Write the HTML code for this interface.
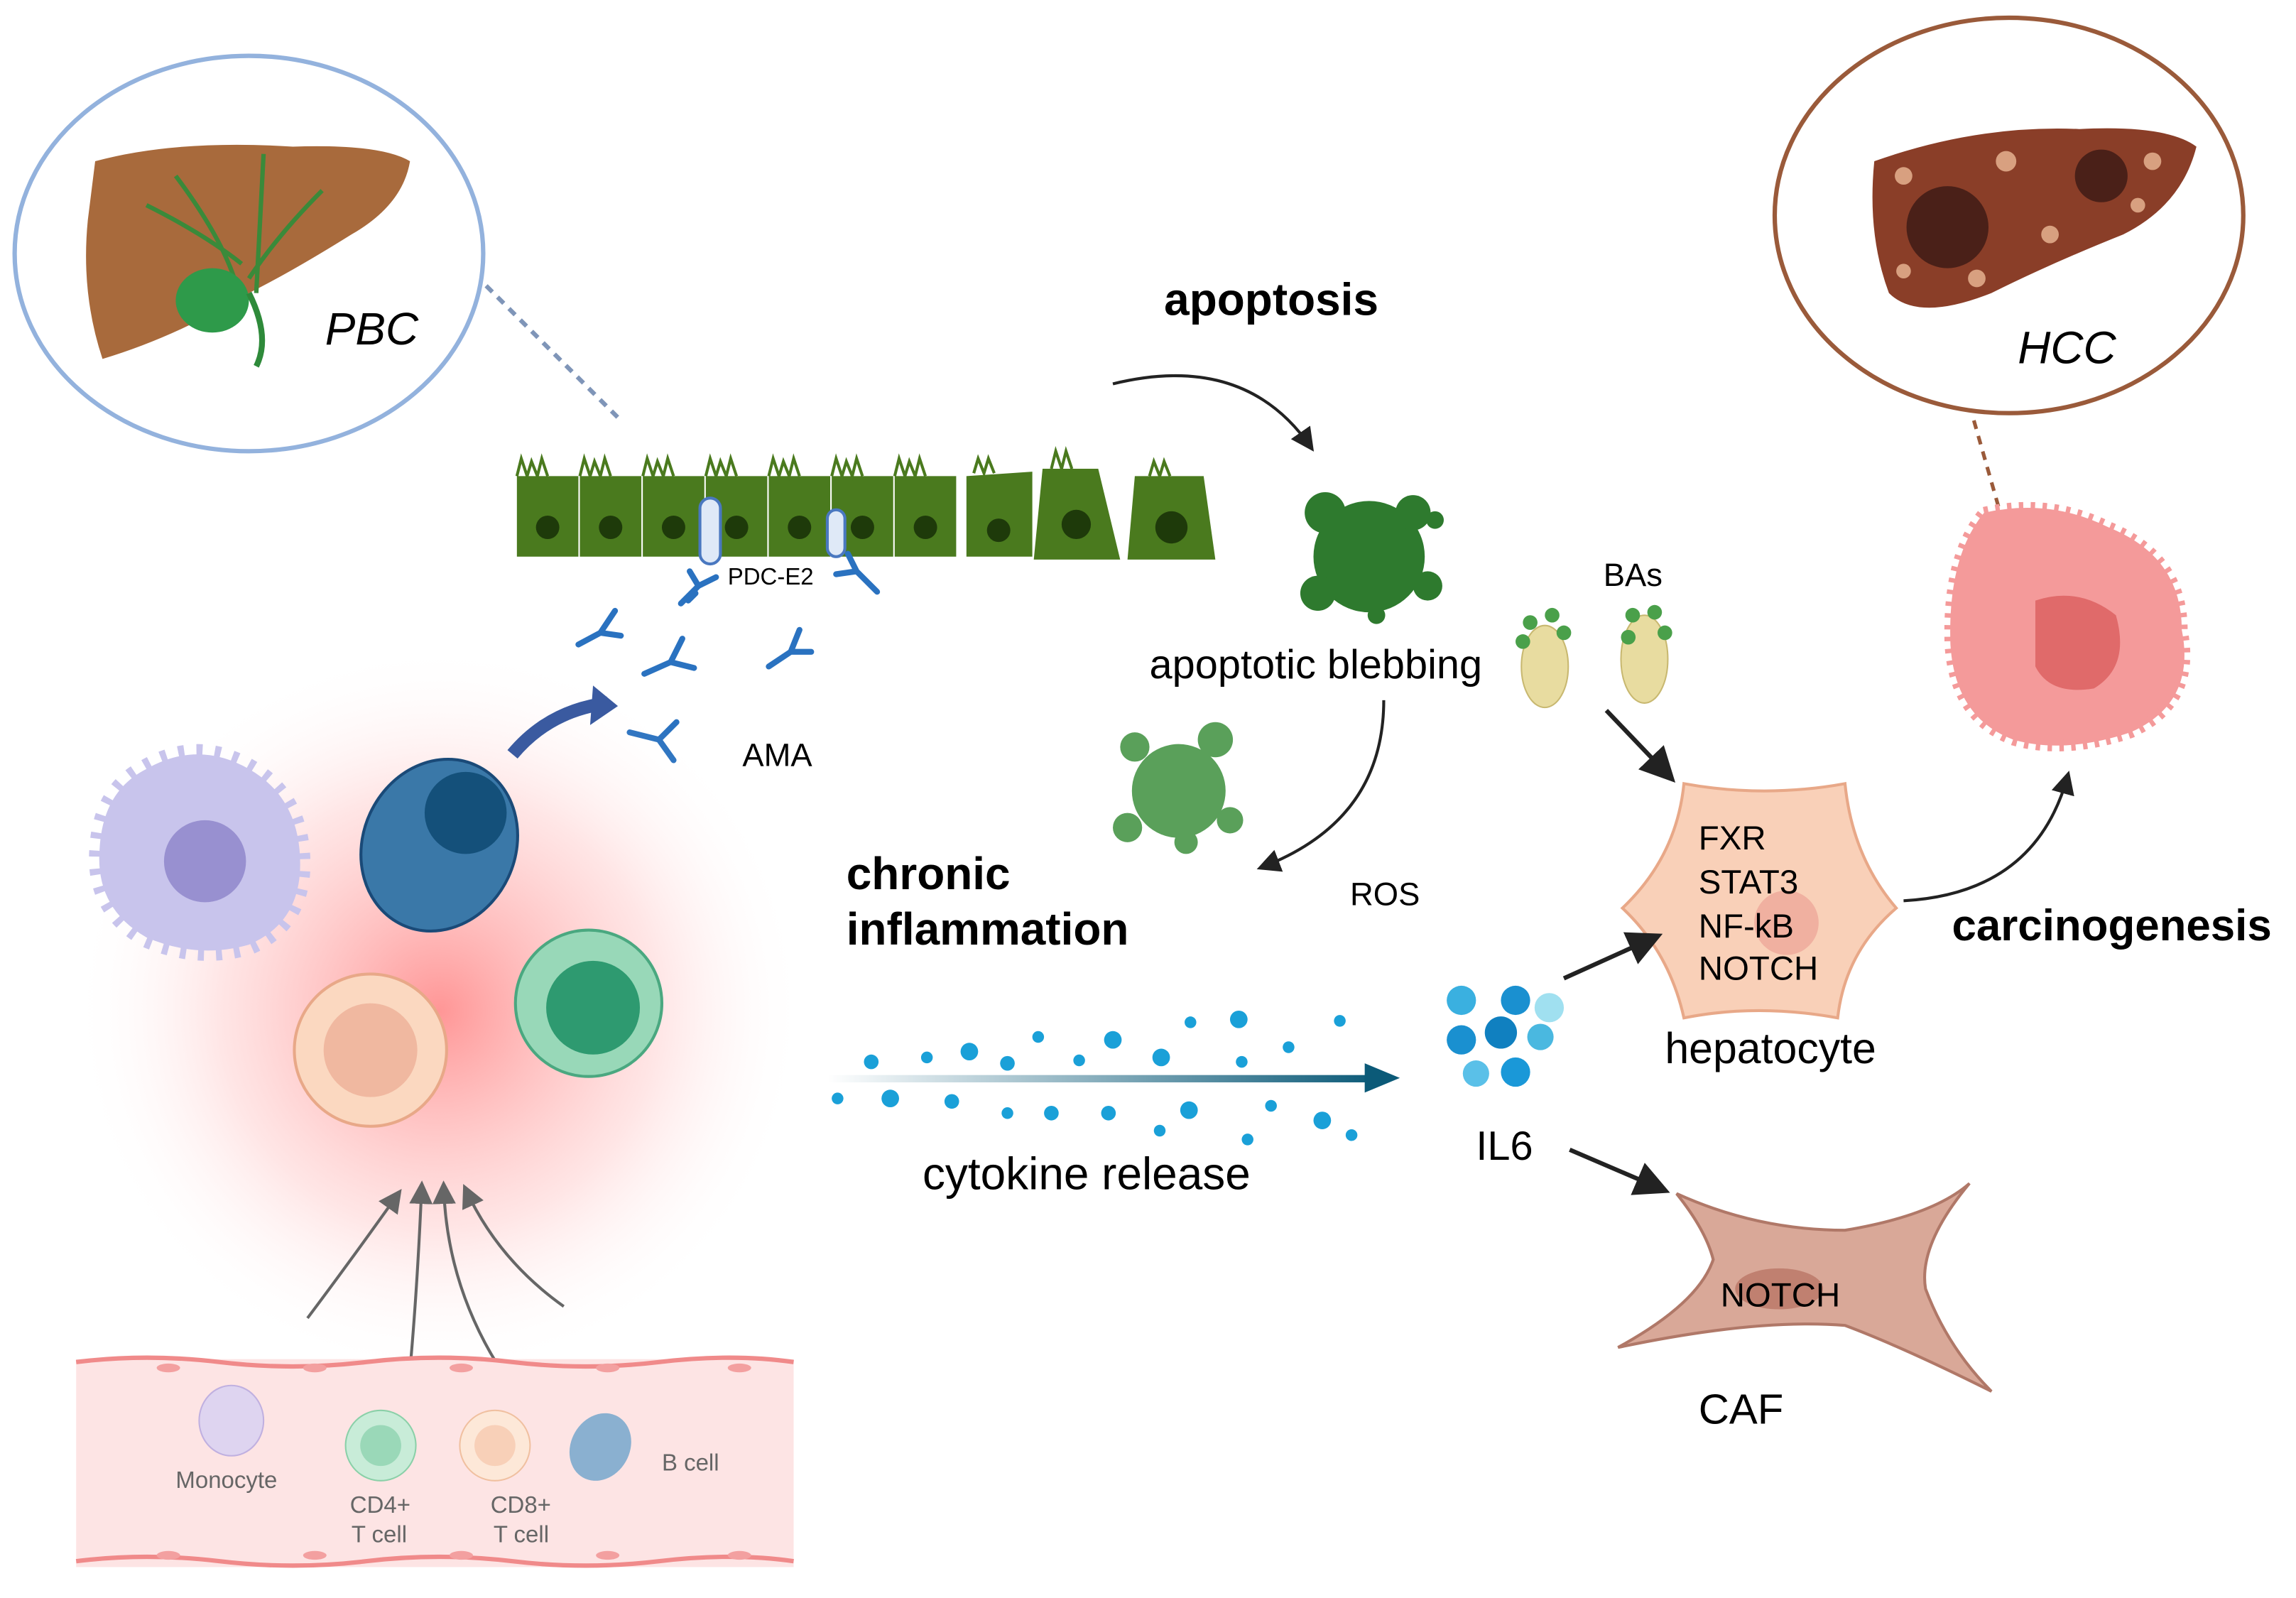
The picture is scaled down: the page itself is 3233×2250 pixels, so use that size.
<!DOCTYPE html>
<html><head><meta charset="utf-8"><style>
html,body{margin:0;padding:0;background:#fff}
svg{display:block}
text{font-family:"Liberation Sans",sans-serif}
</style></head><body>
<svg width="3233" height="2250" viewBox="0 0 1568 1091" xmlns="http://www.w3.org/2000/svg">
<defs>
<radialGradient id="glow" cx="0.5" cy="0.5" r="0.5">
<stop offset="0" stop-color="#ff4040" stop-opacity="0.55"/>
<stop offset="0.6" stop-color="#ff8080" stop-opacity="0.2"/>
<stop offset="1" stop-color="#ffffff" stop-opacity="0"/>
</radialGradient>
<linearGradient id="cyt" x1="0" x2="1"><stop offset="0" stop-color="#0b5a78" stop-opacity="0"/><stop offset="1" stop-color="#0b5a78"/></linearGradient>
<marker id="ah" markerWidth="8" markerHeight="8" refX="6" refY="4" orient="auto"><path d="M0,0 L8,4 L0,8 z" fill="#222"/></marker>
<marker id="ahg" markerWidth="8" markerHeight="8" refX="6" refY="4" orient="auto"><path d="M0,0 L8,4 L0,8 z" fill="#666"/></marker>
</defs>

<ellipse cx="170" cy="173" rx="160" ry="135" fill="#fff" stroke="#93b2dd" stroke-width="3"/>
<path d="M65,110 Q120,95 200,100 Q260,98 280,110 Q275,140 240,160 Q200,185 170,200 Q120,230 70,245 Q55,200 60,150 Z" fill="#a86a3c"/>
<path d="M120,120 Q150,160 160,190 M180,105 L175,200 M100,140 Q140,160 165,180 M220,130 Q190,160 170,190" stroke="#3a8a3a" stroke-width="3" fill="none"/>
<ellipse cx="145" cy="205" rx="25" ry="22" fill="#2e9a4a"/>
<path d="M170,200 Q185,230 175,250" stroke="#2e8a3a" stroke-width="4" fill="none"/>
<text x="222" y="235" font-size="31" font-style="italic">PBC</text>
<line x1="332" y1="195" x2="425" y2="288" stroke="#7f95b8" stroke-width="3" stroke-dasharray="6,5"/>

<ellipse cx="1372" cy="147" rx="160" ry="135" fill="#fff" stroke="#9a5a3a" stroke-width="3"/>
<path d="M1280,110 Q1350,85 1420,88 Q1480,85 1500,100 Q1490,140 1450,160 Q1400,180 1360,200 Q1310,220 1290,200 Q1275,160 1280,110 Z" fill="#8a3e28"/>
<circle cx="1330" cy="155" r="28" fill="#4a2018"/><circle cx="1435" cy="120" r="18" fill="#4a2018"/>
<g fill="#d8a080"><circle cx="1300" cy="120" r="6"/><circle cx="1370" cy="110" r="7"/><circle cx="1470" cy="110" r="6"/><circle cx="1400" cy="160" r="6"/><circle cx="1300" cy="185" r="5"/><circle cx="1460" cy="140" r="5"/><circle cx="1350" cy="190" r="6"/></g>
<text x="1378" y="248" font-size="31" font-style="italic">HCC</text>
<line x1="1348" y1="287" x2="1368" y2="357" stroke="#9a5a3a" stroke-width="2.5" stroke-dasharray="6,5"/>

<g fill="#4a7a1e">
<rect x="353" y="325" width="42" height="55"/><rect x="396" y="325" width="42" height="55"/><rect x="439" y="325" width="42" height="55"/><rect x="482" y="325" width="42" height="55"/><rect x="525" y="325" width="42" height="55"/><rect x="568" y="325" width="42" height="55"/><rect x="611" y="325" width="42" height="55"/>
<path d="M660,325 L705,322 L705,380 L660,380 Z"/><path d="M712,320 L750,320 L765,382 L706,382 Z"/><path d="M775,325 L822,325 L830,382 L770,382 Z"/>
</g>
<g fill="#1e3a0a"><circle cx="374" cy="360" r="8"/><circle cx="417" cy="360" r="8"/><circle cx="460" cy="360" r="8"/><circle cx="503" cy="360" r="8"/><circle cx="546" cy="360" r="8"/><circle cx="589" cy="360" r="8"/><circle cx="632" cy="360" r="8"/><circle cx="682" cy="362" r="8"/><circle cx="735" cy="358" r="10"/><circle cx="800" cy="360" r="11"/></g>
<path d="M353,325 l3,-12 l4,12 l3,-10 l4,10 l3,-12 l4,12 M396,325 l3,-12 l4,12 l3,-10 l4,10 l3,-12 l4,12 M439,325 l3,-12 l4,12 l3,-10 l4,10 l3,-12 l4,12 M482,325 l3,-12 l4,12 l3,-10 l4,10 l3,-12 l4,12 M525,325 l3,-12 l4,12 l3,-10 l4,10 l3,-12 l4,12 M568,325 l3,-12 l4,12 l3,-10 l4,10 l3,-12 l4,12 M611,325 l3,-12 l4,12 l3,-10 l4,10 l3,-12 l4,12 M665,323 l3,-10 l4,10 l3,-10 l4,10 M718,320 l3,-12 l4,12 l3,-12 l4,12 M785,325 l3,-10 l4,10 l3,-10 l4,10" stroke="#4a7a1e" stroke-width="2" fill="none"/>
<rect x="478" y="340" width="14" height="45" rx="7" fill="#dfe9f7" stroke="#4a78c0" stroke-width="2"/>
<rect x="565" y="348" width="12" height="32" rx="6" fill="#dfe9f7" stroke="#4a78c0" stroke-width="2"/>
<text x="497" y="399" font-size="16">PDC-E2</text>

<g stroke="#2a72c0" stroke-width="4" fill="none" stroke-linecap="round">
<path d="M465,412 l12,-12 m0,0 l-6,-10 m6,10 l12,-6 M470,410 l5,-5"/>
<path d="M585,390 l14,14 m-14,-14 l-6,-12 m6,12 l-14,2"/>
<path d="M395,440 l15,-8 l10,-15 m-10,15 l14,2"/>
<path d="M440,460 l18,-8 l8,-16 m-8,16 l16,4"/>
<path d="M525,455 l15,-10 l6,-15 m-6,15 l14,0"/>
<path d="M430,500 l20,5 l12,-12 m-12,12 l10,14"/>
</g>
<text x="507" y="523" font-size="22">AMA</text>

<text x="795" y="215" font-size="31" font-weight="bold">apoptosis</text>
<path d="M760,262 Q850,240 895,305" stroke="#222" stroke-width="2" fill="none" marker-end="url(#ah)"/>
<g fill="#2e7a2e"><circle cx="935" cy="380" r="38"/><circle cx="905" cy="350" r="14"/><circle cx="965" cy="350" r="12"/><circle cx="900" cy="405" r="12"/><circle cx="975" cy="400" r="10"/><circle cx="980" cy="355" r="6"/><circle cx="940" cy="420" r="6"/></g>
<text x="785" y="463" font-size="28">apoptotic blebbing</text>
<g fill="#5aa05a"><circle cx="805" cy="540" r="32"/><circle cx="775" cy="510" r="10"/><circle cx="830" cy="505" r="12"/><circle cx="770" cy="565" r="10"/><circle cx="840" cy="560" r="9"/><circle cx="810" cy="575" r="8"/></g>
<path d="M945,478 Q945,560 862,592" stroke="#222" stroke-width="2" fill="none" marker-end="url(#ah)"/>
<text x="578" y="607" font-size="31" font-weight="bold">chronic</text>
<text x="578" y="645" font-size="31" font-weight="bold">inflammation</text>
<text x="922" y="618" font-size="22">ROS</text>

<text x="1095" y="400" font-size="22">BAs</text>
<g fill="#e8dca0" stroke="#c8b870"><ellipse cx="1055" cy="455" rx="16" ry="28"/><ellipse cx="1123" cy="450" rx="16" ry="30"/></g>
<g fill="#4aa04a"><circle cx="1045" cy="425" r="5"/><circle cx="1060" cy="420" r="5"/><circle cx="1068" cy="432" r="5"/><circle cx="1040" cy="438" r="5"/><circle cx="1115" cy="420" r="5"/><circle cx="1130" cy="418" r="5"/><circle cx="1137" cy="432" r="5"/><circle cx="1112" cy="435" r="5"/></g>
<line x1="1097" y1="485" x2="1140" y2="530" stroke="#222" stroke-width="3" marker-end="url(#ah)"/>

<path d="M1150,535 Q1205,545 1260,535 Q1265,585 1295,620 Q1260,650 1255,695 Q1200,685 1150,695 Q1140,650 1108,620 Q1145,585 1150,535 Z" fill="#f9d0b8" stroke="#e8a888" stroke-width="2"/>
<circle cx="1220" cy="630" r="22" fill="#f0b0a0"/>
<text x="1160" y="580" font-size="23">FXR</text>
<text x="1160" y="610" font-size="23">STAT3</text>
<text x="1160" y="640" font-size="23">NF-kB</text>
<text x="1160" y="669" font-size="23">NOTCH</text>
<text x="1137" y="726" font-size="29.5">hepatocyte</text>
<path d="M1300,615 Q1390,610 1412,530" stroke="#222" stroke-width="2" fill="none" marker-end="url(#ah)"/>
<text x="1333" y="642" font-size="30" font-weight="bold">carcinogenesis</text>

<path d="M1355,350 Q1400,340 1440,360 Q1490,380 1490,430 Q1500,480 1455,500 Q1410,515 1375,505 Q1335,490 1332,440 Q1330,380 1355,350 Z" fill="#f49a9a" stroke="#f49a9a" stroke-width="8" stroke-dasharray="3,5" stroke-linejoin="round"/>
<path d="M1390,410 Q1420,400 1445,420 Q1455,455 1430,470 Q1400,475 1390,455 Z" fill="#e06a6a"/>

<g><circle cx="998" cy="683" r="10" fill="#3ab0e0"/><circle cx="1035" cy="683" r="10" fill="#1a90d0"/><circle cx="1058" cy="688" r="10" fill="#a0e0f0"/><circle cx="998" cy="710" r="10" fill="#1a90d0"/><circle cx="1025" cy="705" r="11" fill="#1080c0"/><circle cx="1052" cy="708" r="9" fill="#4ab8e0"/><circle cx="1008" cy="733" r="9" fill="#5ac0e8"/><circle cx="1035" cy="732" r="10" fill="#1a98d8"/></g>
<text x="1008" y="792" font-size="28">IL6</text>
<line x1="1068" y1="668" x2="1130" y2="640" stroke="#222" stroke-width="3" marker-end="url(#ah)"/>
<line x1="1072" y1="785" x2="1135" y2="812" stroke="#222" stroke-width="3" marker-end="url(#ah)"/>

<path d="M1145,815 Q1200,840 1260,840 Q1320,830 1345,808 Q1310,850 1315,880 Q1330,920 1360,950 Q1300,920 1260,905 Q1200,900 1105,920 Q1160,890 1170,860 Q1165,840 1145,815 Z" fill="#d9a898" stroke="#b07868" stroke-width="2"/>
<ellipse cx="1215" cy="880" rx="30" ry="14" fill="#c08070"/>
<text x="1175" y="892" font-size="23">NOTCH</text>
<text x="1160" y="972" font-size="29">CAF</text>

<rect x="565" y="734" width="375" height="5" fill="url(#cyt)"/>
<path d="M932,726 L956,736 L932,746 Z" fill="#0b5a78"/>
<g fill="#1aa0d8">
<circle cx="595" cy="725" r="5"/><circle cx="633" cy="722" r="4"/><circle cx="662" cy="718" r="6"/><circle cx="688" cy="726" r="5"/><circle cx="709" cy="708" r="4"/><circle cx="737" cy="724" r="4"/><circle cx="760" cy="710" r="6"/><circle cx="793" cy="722" r="6"/><circle cx="813" cy="698" r="4"/><circle cx="846" cy="696" r="6"/><circle cx="848" cy="725" r="4"/><circle cx="880" cy="715" r="4"/><circle cx="915" cy="697" r="4"/>
<circle cx="572" cy="750" r="4"/><circle cx="608" cy="750" r="6"/><circle cx="650" cy="752" r="5"/><circle cx="688" cy="760" r="4"/><circle cx="718" cy="760" r="5"/><circle cx="757" cy="760" r="5"/><circle cx="792" cy="772" r="4"/><circle cx="812" cy="758" r="6"/><circle cx="852" cy="778" r="4"/><circle cx="868" cy="755" r="4"/><circle cx="903" cy="765" r="6"/><circle cx="923" cy="775" r="4"/>
</g>
<text x="630" y="812" font-size="31">cytokine release</text>

<circle cx="300" cy="690" r="250" fill="url(#glow)"/>
<path d="M100,525 Q135,505 170,525 Q205,545 205,590 Q205,630 170,645 Q135,655 100,640 Q65,620 68,580 Q70,540 100,525 Z" fill="#c8c4ec" stroke="#c8c4ec" stroke-width="14" stroke-dasharray="4,8" stroke-linejoin="round"/>
<circle cx="140" cy="588" r="28" fill="#9890d0"/>
<ellipse cx="300" cy="577" rx="52" ry="60" transform="rotate(25 300 577)" fill="#3a78a8" stroke="#1a4a78" stroke-width="2"/>
<circle cx="318" cy="555" r="28" fill="#14507a"/>
<path d="M350,515 Q375,485 415,480" stroke="#3a5aa0" stroke-width="9" fill="none"/>
<path d="M405,468 L422,482 L403,495 Z" fill="#3a5aa0"/>
<circle cx="253" cy="717" r="52" fill="#fbd8c0" stroke="#e8a888" stroke-width="2"/>
<circle cx="253" cy="717" r="32" fill="#f0b8a0"/>
<circle cx="402" cy="685" r="50" fill="#98d8b8" stroke="#4aa880" stroke-width="2"/>
<circle cx="405" cy="688" r="32" fill="#2e9a70"/>

<g stroke="#666" stroke-width="2" fill="none" marker-end="url(#ahg)">
<path d="M210,900 Q240,860 272,815"/><path d="M280,935 Q285,880 288,810"/><path d="M345,940 Q305,880 303,810"/><path d="M385,892 Q340,860 318,812"/>
</g>

<rect x="52" y="928" width="490" height="142" fill="#fde4e4"/>
<path d="M52,930 Q100,924 150,930 T250,930 T350,930 T450,930 T542,930" stroke="#f08a8a" stroke-width="3" fill="none"/>
<path d="M52,1066 Q100,1060 150,1066 T250,1066 T350,1066 T450,1066 T542,1066" stroke="#f08a8a" stroke-width="3" fill="none"/>
<g fill="#f3a0a0"><ellipse cx="115" cy="934" rx="8" ry="3"/><ellipse cx="215" cy="934" rx="8" ry="3"/><ellipse cx="315" cy="934" rx="8" ry="3"/><ellipse cx="415" cy="934" rx="8" ry="3"/><ellipse cx="505" cy="934" rx="8" ry="3"/><ellipse cx="115" cy="1062" rx="8" ry="3"/><ellipse cx="215" cy="1062" rx="8" ry="3"/><ellipse cx="315" cy="1062" rx="8" ry="3"/><ellipse cx="415" cy="1062" rx="8" ry="3"/><ellipse cx="505" cy="1062" rx="8" ry="3"/></g>
<ellipse cx="158" cy="970" rx="22" ry="24" fill="#ded4f0" stroke="#c0b0e0"/>
<circle cx="260" cy="987" r="24" fill="#c8ecd8" stroke="#8ad0a8"/><circle cx="260" cy="987" r="14" fill="#9ad8b8"/>
<circle cx="338" cy="987" r="24" fill="#fde8d8" stroke="#f0c0a0"/><circle cx="338" cy="987" r="14" fill="#f8d0b8"/>
<ellipse cx="410" cy="988" rx="20" ry="24" transform="rotate(30 410 988)" fill="#8ab0d0"/>
<g font-size="16" fill="#666">
<text x="120" y="1016">Monocyte</text>
<text x="239" y="1033">CD4+</text><text x="240" y="1053">T cell</text>
<text x="335" y="1033">CD8+</text><text x="337" y="1053">T cell</text>
<text x="452" y="1004">B  cell</text>
</g>
</svg>
</body></html>
